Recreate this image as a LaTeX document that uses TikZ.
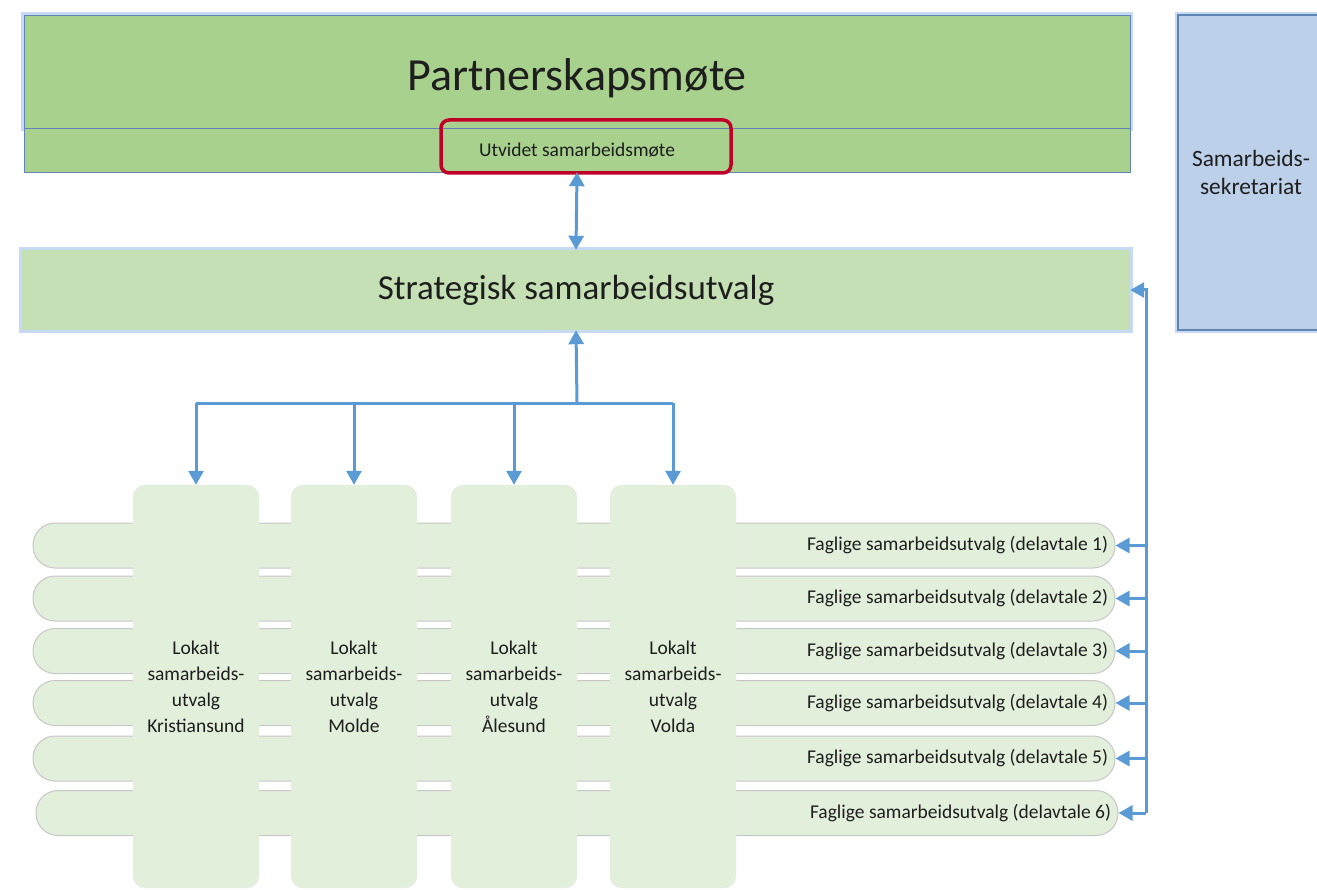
\documentclass[tikz,border=0pt]{standalone}
\usepackage{fontspec}
\setmainfont{Carlito}
\usetikzlibrary{arrows.meta}
\definecolor{darkgreen}{RGB}{169,209,142}
\definecolor{midgreen}{RGB}{197,224,180}
\definecolor{palegreen}{RGB}{226,239,218}
\definecolor{paleblue}{RGB}{189,208,233}
\definecolor{frameblue}{RGB}{96,132,182}
\definecolor{glowblue}{RGB}{160,195,235}
\definecolor{linkblue}{RGB}{91,155,213}
\definecolor{markred}{RGB}{192,0,40}
\definecolor{inkgray}{RGB}{30,30,30}

\begin{document}
\begin{tikzpicture}[x=1pt,y=-1pt,
    >={Triangle[length=14pt,width=15pt]},
    glow/.style={preaction={draw=glowblue,line width=6pt,opacity=.6}},
    bigbox/.style={rectangle,inner sep=0pt,text=inkgray,glow},
    lokal/.style={rectangle,rounded corners=12pt,fill=palegreen,draw=black!8,
        minimum width=126pt,minimum height=403pt,inner sep=0pt,align=center,
        text=inkgray,font=\fontsize{19.5}{26}\selectfont},
    fagbar/.style={rectangle,rounded corners=22pt,fill=palegreen,draw=black!22,line width=1pt,
        minimum height=45pt,text width=1068pt,inner xsep=7pt,inner ysep=0pt,align=flush right,
        text=inkgray,font=\fontsize{19.5}{23}\selectfont},
    conn/.style={draw=linkblue,line width=3pt}]
    \useasboundingbox (0,0) rectangle (1317,890);
    % top: partnerskapsmøte with the strip below
    \node[bigbox,fill=darkgreen,draw=frameblue,minimum width=1106pt,minimum height=113pt,
        label={[yshift=-7pt,text=inkgray,font=\fontsize{46}{50}\selectfont]center:Partnerskapsmøte}] (partner) at (577,71.5) {};
    \node[rectangle,fill=darkgreen,draw=frameblue,minimum width=1106pt,minimum height=44pt,
        inner sep=0pt,text=inkgray,font=\fontsize{19.5}{22}\selectfont] (utvidet) at (577,150) {\raisebox{-2pt}{Utvidet samarbeidsmøte}};
    \node[rectangle,rounded corners=8pt,draw=markred,line width=3.5pt,minimum width=290pt,
        minimum height=53pt] (markering) at (586,146.5) {};
    % secretariat on the right
    \node[bigbox,fill=paleblue,draw=frameblue,line width=1.4pt,minimum width=146pt,minimum height=315pt,
        align=center,font=\fontsize{23.4}{28}\selectfont] (sekretariat) at (1251,172.5) {Samarbeids-\\sekretariat};
    % strategisk
    \node[bigbox,fill=midgreen,minimum width=1108pt,minimum height=80pt,
        font=\fontsize{35}{40}\selectfont] (strategisk) at (576,290) {Strategisk samarbeidsutvalg};
    % faglige bars
    \node[fagbar] (fag1) at (574,545.5) {Faglige samarbeidsutvalg (delavtale 1)};
    \node[fagbar] (fag2) at (574,598.5) {Faglige samarbeidsutvalg (delavtale 2)};
    \node[fagbar] (fag3) at (574,651) {Faglige samarbeidsutvalg (delavtale 3)};
    \node[fagbar] (fag4) at (574,703) {Faglige samarbeidsutvalg (delavtale 4)};
    \node[fagbar] (fag5) at (574,758.5) {Faglige samarbeidsutvalg (delavtale 5)};
    \node[fagbar] (fag6) at (577,813) {Faglige samarbeidsutvalg (delavtale 6)};
    % lokale utvalg on top of the bars
    \node[lokal] (lokal1) at (196,686.5) {Lokalt\\samarbeids-\\utvalg\\Kristiansund};
    \node[lokal] (lokal2) at (354,686.5) {Lokalt\\samarbeids-\\utvalg\\Molde};
    \node[lokal] (lokal3) at (514,686.5) {Lokalt\\samarbeids-\\utvalg\\Ålesund};
    \node[lokal] (lokal4) at (673,686.5) {Lokalt\\samarbeids-\\utvalg\\Volda};
    % the connectors
    \draw[conn,<->] (utvidet.south) -- (strategisk.north);
    \coordinate (hub) at (577,403);
    \draw[conn,->] (hub) -- (strategisk.south);
    \draw[conn] (hub -| lokal1.north) -- (hub -| lokal4.north);
    \draw[conn,->] (hub -| lokal1.north) -- (lokal1.north);
    \draw[conn,->] (hub -| lokal2.north) -- (lokal2.north);
    \draw[conn,->] (hub -| lokal3.north) -- (lokal3.north);
    \draw[conn,->] (hub -| lokal4.north) -- (lokal4.north);
    \coordinate (spine) at (1146,290);
    \draw[conn,->] (spine |- fag6.east) -- (spine) -- (strategisk.east);
    \draw[conn,->] (spine |- fag1.east) -- (fag1.east);
    \draw[conn,->] (spine |- fag2.east) -- (fag2.east);
    \draw[conn,->] (spine |- fag3.east) -- (fag3.east);
    \draw[conn,->] (spine |- fag4.east) -- (fag4.east);
    \draw[conn,->] (spine |- fag5.east) -- (fag5.east);
    \draw[conn,->] (spine |- fag6.east) -- (fag6.east);
\end{tikzpicture}
\end{document}
